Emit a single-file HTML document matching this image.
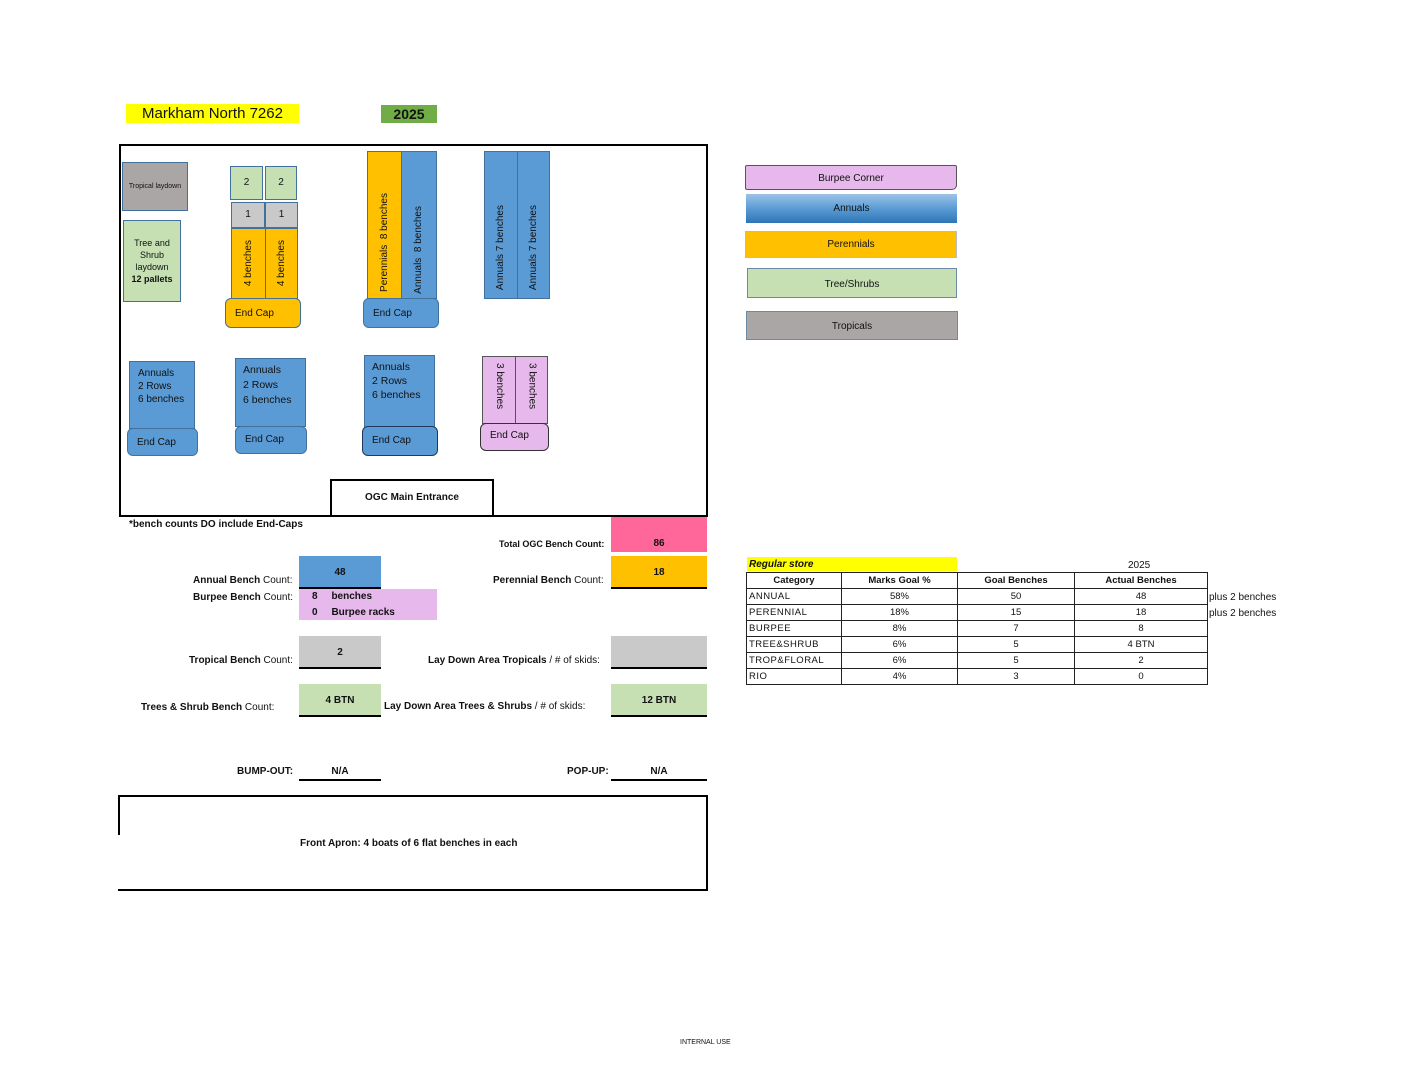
<!DOCTYPE html>
<html><head><meta charset="utf-8"><style>
*{box-sizing:border-box;margin:0;padding:0}
body{width:1408px;height:1088px;background:#fff;position:relative;font-family:"Liberation Sans",sans-serif;color:#111;overflow:hidden}
.a{position:absolute}
.b{position:absolute;display:flex;align-items:center;justify-content:center;text-align:center;font-size:10px;line-height:12px}
.bl{background:#5b9bd5;border:1px solid #41719c}
.or{background:#ffc000;border:1px solid #41719c}
.gr{background:#c6e0b4;border:1px solid #41719c}
.gy{background:#c9c9c9;border:1px solid #41719c}
.pk{background:#e6b8eb;border:1px solid #555}
.v{writing-mode:vertical-rl;transform:rotate(180deg)}
.vd{writing-mode:vertical-rl}
.ec{border-radius:6px;justify-content:flex-start;padding-left:9px}
.t{position:absolute;font-size:10px;white-space:nowrap}
.bo{font-weight:bold}
table{border-collapse:collapse;position:absolute;font-size:9.5px}
td{border:1px solid #222;height:16px;text-align:center;padding:0}
td:first-child{text-align:left;padding-left:2px;letter-spacing:.5px}
</style></head><body>
<div class="b" style="left:126px;top:104px;width:173px;height:19px;background:#ffff00;font-size:15px">Markham North 7262</div>
<div class="b bo" style="left:381px;top:105px;width:56px;height:18px;background:#70ad47;font-size:14px">2025</div>

<div class="a" style="left:119px;top:144px;width:589px;height:373px;border:2px solid #000"></div>

<div class="b" style="left:122px;top:162px;width:66px;height:49px;background:#aaa6a6;border:1px solid #41719c;font-size:7px">Tropical laydown</div>
<div class="b gr" style="left:123px;top:220px;width:58px;height:82px;font-size:9px"><div>Tree and<br>Shrub<br>laydown<br><b>12 pallets</b></div></div>

<div class="b gr" style="left:230px;top:166px;width:33px;height:34px">2</div>
<div class="b gr" style="left:265px;top:166px;width:32px;height:34px">2</div>
<div class="b gy" style="left:231px;top:202px;width:34px;height:26px">1</div>
<div class="b gy" style="left:265px;top:202px;width:33px;height:26px">1</div>
<div class="b or" style="left:231px;top:228px;width:35px;height:71px"><span class="v">4 benches</span></div>
<div class="b or" style="left:265px;top:228px;width:33px;height:71px"><span class="v">4 benches</span></div>
<div class="b or ec" style="left:225px;top:298px;width:76px;height:30px;padding-top:2px">End Cap</div>

<div class="b or" style="left:367px;top:151px;width:35px;height:148px;align-items:flex-end;padding-bottom:6px"><span class="v">Perennials&nbsp; 8 benches</span></div>
<div class="b bl" style="left:401px;top:151px;width:36px;height:148px;align-items:flex-end;padding-bottom:4px"><span class="v">Annuals&nbsp; 8 benches</span></div>
<div class="b bl ec" style="left:363px;top:298px;width:76px;height:30px;padding-top:2px">End Cap</div>

<div class="b bl" style="left:484px;top:151px;width:34px;height:148px;align-items:flex-end;padding-bottom:8px"><span class="v">Annuals 7 benches</span></div>
<div class="b bl" style="left:517px;top:151px;width:33px;height:148px;align-items:flex-end;padding-bottom:8px"><span class="v">Annuals 7 benches</span></div>

<div class="b bl" style="left:129px;top:361px;width:66px;height:68px;align-items:flex-start;justify-content:flex-start;text-align:left;padding:5px 0 0 8px;font-size:10px;line-height:13px"><div>Annuals<br>2 Rows<br>6 benches</div></div>
<div class="b bl ec" style="left:127px;top:428px;width:71px;height:28px;padding-top:2px">End Cap</div>
<div class="b bl" style="left:235px;top:358px;width:71px;height:69px;align-items:flex-start;justify-content:flex-start;text-align:left;padding:4px 0 0 7px;font-size:10.5px;line-height:15px"><div>Annuals<br>2 Rows<br>6 benches</div></div>
<div class="b bl ec" style="left:235px;top:426px;width:72px;height:28px">End Cap</div>
<div class="b bl" style="left:364px;top:355px;width:71px;height:73px;align-items:flex-start;justify-content:flex-start;text-align:left;padding:4px 0 0 7px;font-size:10.5px;line-height:14px"><div>Annuals<br>2 Rows<br>6 benches</div></div>
<div class="b bl ec" style="left:362px;top:426px;width:76px;height:30px;border:1.5px solid #1f3a5a">End Cap</div>

<div class="b pk" style="left:482px;top:356px;width:34px;height:68px;align-items:flex-start;padding-top:6px"><span class="vd">3 benches</span></div>
<div class="b pk" style="left:515px;top:356px;width:33px;height:68px;align-items:flex-start;padding-top:6px"><span class="vd">3 benches</span></div>
<div class="b pk ec" style="left:480px;top:423px;width:69px;height:28px;border:1.5px solid #333;align-items:flex-start;padding-top:6px">End Cap</div>

<div class="b bo" style="left:330px;top:479px;width:164px;height:38px;border:2px solid #000;background:#fff;font-size:10px">OGC Main Entrance</div>

<div class="t bo" style="left:129px;top:519px">*bench counts DO include End-Caps</div>
<div class="t bo" style="left:499px;top:539px;font-size:9px">Total OGC Bench Count:</div>
<div class="b bo" style="left:611px;top:517px;width:96px;height:35px;background:#ff6699;align-items:flex-end;padding-bottom:2px">86</div>

<div class="t" style="left:193px;top:575px"><b>Annual Bench</b> Count:</div>
<div class="b bo" style="left:299px;top:556px;width:82px;height:33px;background:#5b9bd5;border-bottom:2px solid #000;align-items:flex-start;padding-top:11px">48</div>
<div class="t" style="left:493px;top:575px"><b>Perennial Bench</b> Count:</div>
<div class="b bo" style="left:611px;top:556px;width:96px;height:33px;background:#ffc000;border-bottom:2px solid #000;align-items:flex-start;padding-top:11px">18</div>

<div class="t" style="left:193px;top:592px"><b>Burpee Bench</b> Count:</div>
<div class="a bo" style="left:299px;top:589px;width:138px;height:31px;background:#e6b8eb;font-size:10px;line-height:16px;padding-left:13px">8&nbsp;&nbsp;&nbsp;&nbsp; benches<br>0&nbsp;&nbsp;&nbsp;&nbsp; Burpee racks</div>

<div class="t" style="left:189px;top:655px"><b>Tropical Bench</b> Count:</div>
<div class="b bo" style="left:299px;top:636px;width:82px;height:33px;background:#c9c9c9;border-bottom:2px solid #000;align-items:flex-start;padding-top:11px">2</div>
<div class="t" style="left:428px;top:655px"><b>Lay Down Area Tropicals</b> / # of skids:</div>
<div class="b" style="left:611px;top:636px;width:96px;height:33px;background:#c9c9c9;border-bottom:2px solid #000"></div>

<div class="t" style="left:141px;top:702px"><b>Trees &amp; Shrub Bench</b> Count:</div>
<div class="b bo" style="left:299px;top:684px;width:82px;height:33px;background:#c6e0b4;border-bottom:2px solid #000;align-items:flex-start;padding-top:11px">4 BTN</div>
<div class="t" style="left:384px;top:701px"><b>Lay Down Area Trees &amp; Shrubs</b> / # of skids:</div>
<div class="b bo" style="left:611px;top:684px;width:96px;height:33px;background:#c6e0b4;border-bottom:2px solid #000;align-items:flex-start;padding-top:11px">12 BTN</div>

<div class="t bo" style="left:237px;top:766px">BUMP-OUT:</div>
<div class="b bo" style="left:299px;top:764px;width:82px;height:17px;border-bottom:2px solid #000">N/A</div>
<div class="t bo" style="left:567px;top:766px">POP-UP:</div>
<div class="b bo" style="left:611px;top:764px;width:96px;height:17px;border-bottom:2px solid #000">N/A</div>

<div class="a" style="left:118px;top:795px;width:590px;height:96px;border-top:2px solid #000;border-right:2px solid #000;border-bottom:2px solid #000"></div>
<div class="a" style="left:118px;top:795px;width:2px;height:40px;background:#000"></div>
<div class="t bo" style="left:300px;top:838px">Front Apron: 4 boats of 6 flat benches in each</div>

<div class="t" style="left:680px;top:1039px;font-size:7px">INTERNAL USE</div>

<div class="b" style="left:745px;top:165px;width:212px;height:25px;background:#e6b8eb;border:1px solid #555;border-radius:2px 2px 5px 2px;font-size:10px;padding-top:2px">Burpee Corner</div>
<div class="b" style="left:746px;top:194px;width:211px;height:29px;background:linear-gradient(#9dc3e6,#5b9bd5 50%,#2e75b6);font-size:10px">Annuals</div>
<div class="b" style="left:745px;top:231px;width:212px;height:27px;background:#ffc000;border:1px solid #bbb;font-size:10px">Perennials</div>
<div class="b" style="left:747px;top:268px;width:210px;height:30px;background:#c6e0b4;border:1.5px solid #6a8aa5;font-size:10px;padding-top:3px">Tree/Shrubs</div>
<div class="b" style="left:746px;top:311px;width:212px;height:29px;background:#aaa6a6;border:1.5px solid #6a8aa5;font-size:10px;padding-top:2px">Tropicals</div>

<div class="a bo" style="left:747px;top:557px;width:210px;height:14px;background:#ffff00;font-size:10px;font-style:italic;padding-left:2px;line-height:15px">Regular store</div>
<div class="t" style="left:1128px;top:560px">2025</div>
<table style="left:746px;top:572px;width:462px">
<tr style="font-weight:bold"><td style="width:95px;text-align:center;padding:0;letter-spacing:0">Category</td><td style="width:116px">Marks Goal %</td><td style="width:117px">Goal Benches</td><td>Actual Benches</td></tr>
<tr><td>ANNUAL</td><td>58%</td><td>50</td><td>48</td></tr>
<tr><td>PERENNIAL</td><td>18%</td><td>15</td><td>18</td></tr>
<tr><td>BURPEE</td><td>8%</td><td>7</td><td>8</td></tr>
<tr><td>TREE&amp;SHRUB</td><td>6%</td><td>5</td><td>4 BTN</td></tr>
<tr><td>TROP&amp;FLORAL</td><td>6%</td><td>5</td><td>2</td></tr>
<tr><td>RIO</td><td>4%</td><td>3</td><td>0</td></tr>
</table>
<div class="t" style="left:1209px;top:592px">plus 2 benches</div>
<div class="t" style="left:1209px;top:608px">plus 2 benches</div>
</body></html>
